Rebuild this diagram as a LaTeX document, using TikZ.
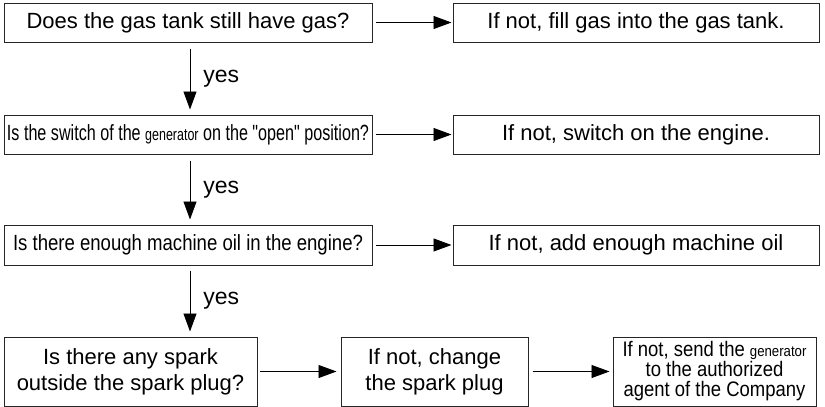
\documentclass[tikz,border=0pt]{standalone}
\usepackage{fontspec}
\setmainfont{Liberation Sans}[Ligatures=TeXOff]
\usepackage{graphicx}
\usetikzlibrary{arrows.meta}
\tikzset{
  box/.style   = {draw=black!85, line width=1pt, align=center, inner sep=0pt,
                  font=\fontsize{22}{26}\selectfont},
  qbox/.style  = {box, minimum width=368pt, minimum height=39pt},
  abox/.style  = {box, minimum width=366pt, minimum height=39pt},
  sbox/.style  = {box, minimum height=69pt},
  ar/.style    = {-{Triangle[length=18pt,width=13pt]}, line width=0.9pt},
  lbl/.style   = {font=\fontsize{23}{26}\selectfont, inner sep=2pt},
}
\newcommand{\gen}[1]{{\fontsize{#1}{#1}\selectfont generator}}
\newcommand{\squeeze}[2]{\resizebox{#1}{\height}{#2}}
\newcommand{\narrowline}[1]{\scalebox{0.88}[1]{#1}}

\begin{document}
\begin{tikzpicture}[x=1pt, y=-1pt]
\useasboundingbox (0,0) rectangle (825,407);

% ===== questions =====
\node[qbox] (gas) at (188,22.5) {Does the gas tank still have gas?};
\node[qbox] (switch) at (188,134.5)
     {\squeeze{362pt}{Is the switch of the \gen{17} on the "open" position?}};
\node[qbox, minimum height=40pt] (oil) at (188,245)
     {\squeeze{350pt}{Is there enough machine oil in the engine?}};
\node[sbox, minimum width=253pt] (spark) at (130.5,371.5)
     {Is there any spark\\outside the spark plug?};

% ===== remedies =====
\node[abox] (fill) at (636,22.5) {If not, fill gas into the gas tank.};
\node[abox] (engine) at (636,134.5) {If not, switch on the engine.};
\node[abox, minimum height=40pt] (addoil) at (636,245) {If not, add enough machine oil};
\node[sbox, minimum width=187pt] (plug) at (434.5,371.5)
     {If not, change\\the spark plug};
\node[sbox, minimum width=203pt, font=\fontsize{21}{20}\selectfont] (agent) at (714.5,371.5)
     {\narrowline{If not, send the \gen{15}}\\\narrowline{to the authorized}\\
      \narrowline{agent of the Company}};

% ===== connections =====
\draw[ar, shorten <=6pt, shorten >=5pt] ([xshift=2pt]gas.south) -- ([xshift=2pt]switch.north)
      node[midway, right=11pt, lbl] {yes};
\draw[ar, shorten <=6pt, shorten >=5pt] ([xshift=2pt]switch.south) -- ([xshift=2pt]oil.north)
      node[midway, right=11pt, lbl] {yes};
\draw[ar, shorten <=5pt, shorten >=5pt] ([xshift=2pt]oil.south) -- ([xshift=2pt]spark.north -| oil.south)
      node[midway, right=11pt, lbl] {yes};
\foreach \a/\b in {gas/fill,switch/engine,oil/addoil}{\draw[ar, shorten <=3pt, shorten >=1pt] (\a) -- (\b);}
\draw[ar, shorten <=2pt, shorten >=4pt] (spark) -- (plug);
\draw[ar, shorten <=4pt, shorten >=3pt] (plug) -- (agent);
\end{tikzpicture}
\end{document}
